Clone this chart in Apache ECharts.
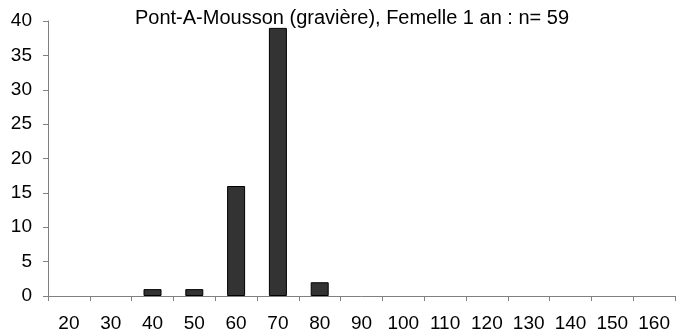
<!DOCTYPE html>
<html>
<head>
<meta charset="utf-8">
<script src="https://cdn.jsdelivr.net/npm/echarts@6/dist/echarts.min.js"></script>
<style>
  html, body { margin: 0; padding: 0; background: #fff; }
  #chart { width: 677px; height: 336px; }
</style>
</head>
<body>
<div id="chart"></div>
<script>
// Length classes (mm) and the number of fish counted in each
const categories = ['20', '30', '40', '50', '60', '70', '80', '90', '100', '110', '120', '130', '140', '150', '160'];
const counts = [0, 0, 1, 1, 16, 39, 2, 0, 0, 0, 0, 0, 0, 0, 0];
const titleText = 'Pont-A-Mousson (gravière), Femelle 1 an : n= 59';

const font = 'Liberation Sans, Arial, sans-serif';
const axisGray = '#808080';

// empty classes draw no bar at all
const barData = counts.map(v => (v === 0 ? '-' : v));

const chart = echarts.init(document.getElementById('chart'), null, { renderer: 'canvas' });
chart.setOption({
  animation: false,
  backgroundColor: '#ffffff',
  title: {
    text: titleText,
    left: 352,
    textAlign: 'center',
    top: 8,
    padding: 0,
    textStyle: { fontFamily: font, fontSize: 20, fontWeight: 'normal', color: '#000' }
  },
  grid: { left: 48, right: 2, top: 21, bottom: 40, containLabel: false },
  xAxis: {
    type: 'category',
    data: categories,
    boundaryGap: true,
    axisLine: { lineStyle: { color: axisGray, width: 1 } },
    axisTick: { show: true, alignWithLabel: false, length: 5, lineStyle: { color: axisGray } },
    axisLabel: { fontFamily: font, fontSize: 19, color: '#000', margin: 18, interval: 0 },
    splitLine: { show: false }
  },
  yAxis: {
    type: 'value',
    min: 0,
    max: 40,
    interval: 5,
    axisLine: { show: true, lineStyle: { color: axisGray, width: 1 } },
    axisTick: { show: true, length: 5, lineStyle: { color: axisGray } },
    axisLabel: { fontFamily: font, fontSize: 19, color: '#000', margin: 16 },
    splitLine: { show: false }
  },
  series: [{
    type: 'bar',
    data: barData,
    barWidth: 18,
    itemStyle: { color: '#333333', borderColor: '#000000', borderWidth: 1 }
  }]
});
</script>
</body>
</html>
